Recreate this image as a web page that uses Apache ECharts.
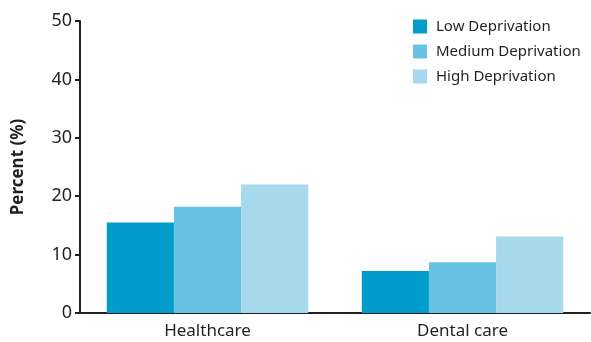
<!DOCTYPE html>
<html>
<head>
<meta charset="utf-8">
<script src="https://cdn.jsdelivr.net/npm/echarts@6/dist/echarts.min.js"></script>
<style>
  html, body { margin: 0; padding: 0; background: #fff; }
  #chart { width: 591px; height: 342px; }
</style>
</head>
<body>
<div id="chart"></div>
<script>
const categories = ['Healthcare', 'Dental care'];
const seriesNames = ['Low Deprivation', 'Medium Deprivation', 'High Deprivation'];
const lowValues = [15.5, 7.2];
const mediumValues = [18.2, 8.7];
const highValues = [22.0, 13.1];
const yTicks = [0, 10, 20, 30, 40, 50];

const colors = ['#019ccb', '#68c2e3', '#a6d9ec'];
const fontFamily = '"Noto Sans", sans-serif';
const ink = '#231f20';

const chart = echarts.init(document.getElementById('chart'), null, { renderer: 'canvas' });

const values = [lowValues, mediumValues, highValues];

chart.setOption({
  animation: false,
  color: colors,
  grid: { left: 80, right: 1, top: 21, bottom: 29, containLabel: false },
  legend: {
    orient: 'vertical',
    left: 413,
    top: 19,
    padding: 0,
    itemWidth: 14,
    itemHeight: 14,
    itemGap: 10,
    icon: 'rect',
    textStyle: { fontFamily, fontSize: 15, color: ink, padding: [0, 0, 0, 4] },
    data: seriesNames
  },
  xAxis: {
    type: 'category',
    data: categories,
    axisLine: { lineStyle: { color: ink, width: 2 } },
    axisTick: { show: false },
    axisLabel: { fontFamily, fontSize: 17, color: ink, margin: 10 }
  },
  yAxis: {
    type: 'value',
    min: yTicks[0],
    max: yTicks[yTicks.length - 1],
    interval: 10,
    name: 'Percent (%)',
    nameLocation: 'middle',
    nameGap: 53,
    nameTextStyle: { fontFamily, fontSize: 17, fontWeight: 'bold', color: ink },
    axisLine: { show: true, lineStyle: { color: ink, width: 2 } },
    axisTick: { show: true, length: 5, lineStyle: { color: ink, width: 2 } },
    axisLabel: { fontFamily, fontSize: 18, color: ink, margin: 8 },
    splitLine: { show: false }
  },
  series: seriesNames.map((name, i) => ({
    name,
    type: 'bar',
    data: values[i],
    barGap: '0%',
    barCategoryGap: '21%',
    itemStyle: { color: colors[i] }
  }))
});
</script>
</body>
</html>
